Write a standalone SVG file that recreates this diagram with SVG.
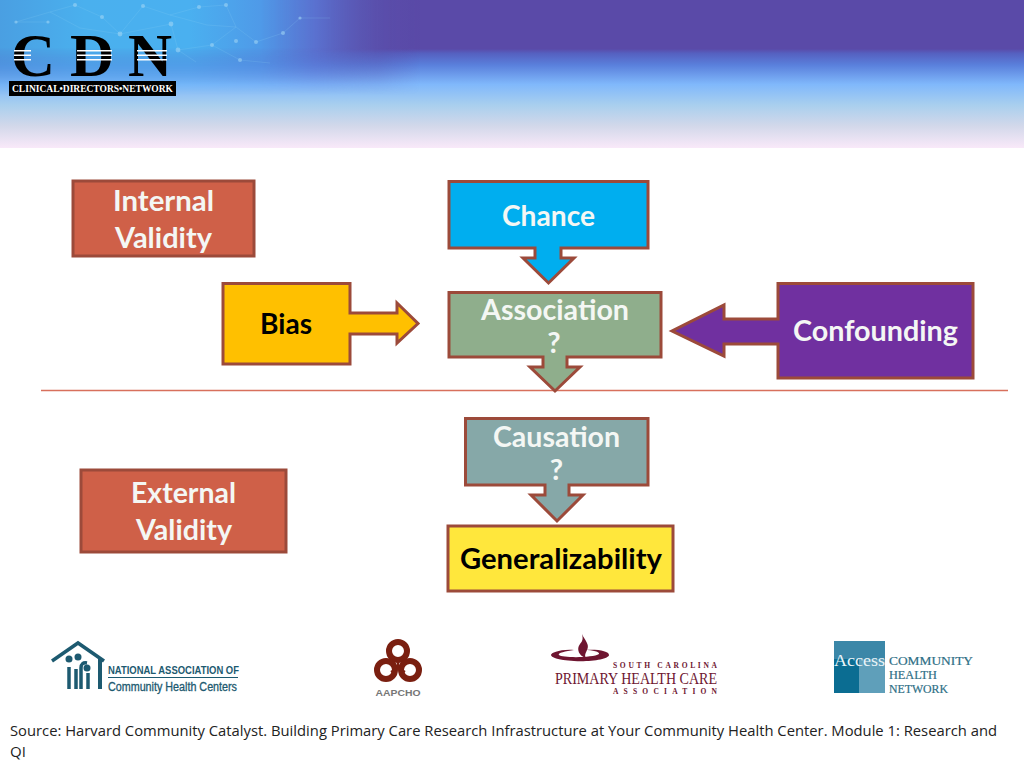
<svg xmlns="http://www.w3.org/2000/svg" width="1024" height="768" viewBox="0 0 1024 768">
<style>
.box{stroke:#9c4a3a;stroke-width:3;stroke-linejoin:miter}
.t{font-family:"Lato","Carlito","Liberation Sans",sans-serif;font-weight:700;font-size:29px;text-anchor:middle;fill:#f4f7f4}
.k{fill:#000}
.src{font-family:"Open Sans","Liberation Sans",sans-serif;font-size:15px;fill:#222}
.serif{font-family:"Liberation Serif",serif}
.sans{font-family:"Liberation Sans",sans-serif}
.net{stroke:#8fd0f5;stroke-width:.6;fill:none;opacity:.3}
.dot{fill:#a5d8f6;opacity:.55}
</style>
<defs>
<linearGradient id="v" x1="0" y1="0" x2="0" y2="1">
<stop offset="0" stop-color="#5a4aa8"/><stop offset=".33" stop-color="#5a4aa8"/><stop offset=".36" stop-color="#5560c0"/><stop offset=".44" stop-color="#5a80dc"/><stop offset=".57" stop-color="#80b8fb"/><stop offset=".71" stop-color="#a9cfee"/><stop offset=".85" stop-color="#d2d8ea"/><stop offset="1" stop-color="#f9e9f9"/>
</linearGradient>
<linearGradient id="h" gradientUnits="userSpaceOnUse" x1="0" y1="0" x2="420" y2="0">
<stop offset="0" stop-color="#4a9fe2"/><stop offset=".2" stop-color="#4ab0ee"/><stop offset=".45" stop-color="#4ab0f0"/><stop offset=".62" stop-color="#4f9ae8"/><stop offset=".75" stop-color="#5a76d4" stop-opacity=".9"/><stop offset=".9" stop-color="#5a55b0" stop-opacity=".5"/><stop offset="1" stop-color="#5a4aa8" stop-opacity="0"/>
</linearGradient>
<linearGradient id="f" gradientUnits="userSpaceOnUse" x1="0" y1="0" x2="0" y2="95">
<stop offset="0" stop-color="#fff"/><stop offset=".5" stop-color="#fff"/><stop offset="1" stop-color="#000"/>
</linearGradient>
<mask id="m" maskUnits="userSpaceOnUse" x="0" y="0" width="420" height="95"><rect x="0" y="0" width="420" height="95" fill="url(#f)"/></mask>
</defs>
<rect width="1024" height="768" fill="#fff"/>
<g id="header">
<rect width="1024" height="148" fill="url(#v)"/>
<rect width="420" height="95" fill="url(#h)" mask="url(#m)"/>
<path class="net" d="M75 5L50 12 16 22 48 22M75 5L102 17 120 34 143 6 170 15 199 7 226 5 236 27 207 25 170 15M120 34L80 28 50 12M120 34L171 24 178 50 212 45 236 27 256 42 283 33M212 45L240 60 270 63M178 50L196 62M283 33L300 18 330 18"/>
<g class="dot"><circle cx="75" cy="5" r="2"/><circle cx="102" cy="17" r="2"/><circle cx="120" cy="34" r="2.4"/><circle cx="143" cy="6" r="2"/><circle cx="171" cy="24" r="2.4"/><circle cx="178" cy="50" r="2.4"/><circle cx="212" cy="45" r="2"/><circle cx="236" cy="41" r="2"/><circle cx="256" cy="42" r="2"/><circle cx="283" cy="33" r="2"/><circle cx="199" cy="7" r="2"/><circle cx="226" cy="5" r="2"/><circle cx="240" cy="60" r="2"/><circle cx="16" cy="22" r="1.6"/><circle cx="48" cy="22" r="1.6"/><circle cx="300" cy="18" r="1.6"/></g>
</g>
<g id="cdn-logo">
<text class="serif" x="11 70 128" y="76" font-size="61" font-weight="700" fill="#000">CDN</text>
<g fill="#fff"><rect x="14" y="50" width="17" height="1.500"/><rect x="14" y="54.500" width="17" height="1.500"/><rect x="14" y="59" width="17" height="1.500"/><rect x="77" y="50" width="35" height="1.500"/><rect x="77" y="54.500" width="35" height="1.500"/><rect x="77" y="59" width="35" height="1.500"/><rect x="137" y="50" width="30" height="1.500"/><rect x="137" y="54.500" width="30" height="1.500"/><rect x="137" y="59" width="30" height="1.500"/></g>
<rect x="9" y="81" width="167" height="15" fill="#000"/>
<text class="serif" x="12" y="92" font-size="10.500" font-weight="700" textLength="161" lengthAdjust="spacingAndGlyphs" fill="#fff">CLINICAL•DIRECTORS•NETWORK</text>
</g>
<g id="connectors">
<line x1="41" y1="390.500" x2="1008" y2="390.500" stroke="#d8705c" stroke-width="1.300"/>
</g>
<g id="internal-validity">
<rect class="box" x="73" y="181" width="181" height="75" fill="#cf6048"/>
<text class="t" x="163.500" y="211" textLength="101" lengthAdjust="spacingAndGlyphs">Internal</text>
<text class="t" x="163.500" y="248" textLength="97" lengthAdjust="spacingAndGlyphs">Validity</text>
</g>
<g id="chance">
<path class="box" fill="#00aeef" d="M449 181.500H648V248H561V258H574L548.500 283 523 258H535V248H449Z"/>
<text class="t" x="548.500" y="226" textLength="93" lengthAdjust="spacingAndGlyphs">Chance</text>
</g>
<g id="bias">
<path class="box" fill="#ffc000" d="M223 283.500H350V313H397V303L418 323.500 397 343V334H350V364H223Z"/>
<text class="t k" x="286" y="334" textLength="52" lengthAdjust="spacingAndGlyphs">Bias</text>
</g>
<g id="association">
<path class="box" fill="#8fae8c" d="M449 292.500H661V357H567V367H580L555 391 530 367H543V357H449Z"/>
<text class="t" x="555" y="320" textLength="148" lengthAdjust="spacingAndGlyphs">Association</text>
<text class="t" x="554" y="353" font-size="20">?</text>
</g>
<g id="confounding">
<path class="box" fill="#7030a0" d="M778 283.500H973V378H778V344H724V356L672 331 724 305V319H778Z"/>
<text class="t" x="875.500" y="341" textLength="165" lengthAdjust="spacingAndGlyphs">Confounding</text>
</g>
<g id="causation">
<path class="box" fill="#86a8a8" d="M465.500 418.500H648V485H569V495H583L557 521 531 495H545V485H465.500Z"/>
<text class="t" x="556.500" y="447" textLength="127" lengthAdjust="spacingAndGlyphs">Causation</text>
<text class="t" x="556.500" y="480" font-size="20">?</text>
</g>
<g id="external-validity">
<rect class="box" x="81" y="470" width="205" height="82" fill="#cf6048"/>
<text class="t" x="183.500" y="503" textLength="105" lengthAdjust="spacingAndGlyphs">External</text>
<text class="t" x="184" y="540" textLength="96" lengthAdjust="spacingAndGlyphs">Validity</text>
</g>
<g id="generalizability">
<rect class="box" x="448" y="526" width="225" height="65" fill="#ffe73c"/>
<text class="t k" x="561" y="569" textLength="202" lengthAdjust="spacingAndGlyphs">Generalizability</text>
</g>
<g id="nachc-logo" fill="#1d5a70">
<path d="M52 661L78 643 104 661" fill="none" stroke="#1d5a70" stroke-width="3.500"/>
<rect x="98" y="658" width="4" height="31"/>
<g fill="none" stroke="#1d5a70" stroke-width="3.500"><path d="M69 689V667"/><path d="M76 689V669"/><path d="M81 689V668q0-6 6-5"/><path d="M88 689V673"/></g>
<circle cx="69" cy="659" r="3.500"/><circle cx="78" cy="657" r="3.500"/><circle cx="87" cy="668" r="3.500"/>
<text class="sans" x="108" y="674" font-size="10.500" font-weight="700" textLength="131" lengthAdjust="spacingAndGlyphs">NATIONAL ASSOCIATION OF</text>
<rect x="108" y="677" width="130" height="1"/>
<text class="sans" x="108" y="691" font-size="12" textLength="129" lengthAdjust="spacingAndGlyphs" stroke="#1d5a70" stroke-width=".3">Community Health Centers</text>
</g>
<g id="aapcho-logo">
<g fill="none" stroke="#7a1f10" stroke-width="6"><circle cx="398" cy="651" r="9"/><circle cx="386" cy="670" r="9"/><circle cx="410" cy="670" r="9"/></g>
<path d="M398 658V668M398 668L391 672M398 668L405 672" stroke="#7a1f10" stroke-width="2.500" fill="none"/>
<text class="sans" x="398" y="696" font-size="8.500" font-weight="700" text-anchor="middle" textLength="45" lengthAdjust="spacingAndGlyphs" fill="#777">AAPCHO</text>
</g>
<g id="scpca-logo" fill="#6e1530">
<path d="M582 634c3 7 8 10 5 16-1 3-3 5-1 8-7-2-10-9-6-14 3-3 3-6 2-10Z"/>
<path d="M584 650c14-1 25 1 25 5s-18 7-35 6-23-4-23-6 9-6 23-5c-8 1-17 3-15 5 3 3 34 3 40-1 1-2-6-4-15-4Z"/>
<text class="serif" x="613" y="668" font-size="7.500" font-weight="700" textLength="104" lengthAdjust="spacing">SOUTH CAROLINA</text>
<text class="serif" x="555" y="684" font-size="17" textLength="162" lengthAdjust="spacingAndGlyphs">PRIMARY HEALTH CARE</text>
<text class="serif" x="613" y="694" font-size="7.500" font-weight="700" textLength="104" lengthAdjust="spacing">ASSOCIATION</text>
</g>
<g id="access-logo">
<rect x="834" y="641" width="25" height="52" fill="#0b6d92"/><rect x="859" y="641" width="26" height="52" fill="#5f9fba"/>
<rect x="834" y="641" width="25" height="18" fill="#3b87a8"/><rect x="859" y="641" width="26" height="18" fill="#3b87a8"/>
<text class="serif" x="834" y="666" font-size="17" textLength="51" lengthAdjust="spacingAndGlyphs" fill="#eaf4f8">Access</text>
<g class="serif" font-size="12" fill="#2f6f86" stroke="#2f6f86" stroke-width=".2">
<text x="889" y="665" textLength="84" lengthAdjust="spacingAndGlyphs">COMMUNITY</text>
<text x="889" y="679" textLength="48" lengthAdjust="spacingAndGlyphs">HEALTH</text>
<text x="889" y="693" textLength="59" lengthAdjust="spacingAndGlyphs">NETWORK</text>
</g>
</g>
<g id="source">
<text class="src" x="10" y="736" textLength="987" lengthAdjust="spacingAndGlyphs">Source: Harvard Community Catalyst. Building Primary Care Research Infrastructure at Your Community Health Center. Module 1: Research and</text>
<text class="src" x="10" y="757">QI</text>
</g>
</svg>
